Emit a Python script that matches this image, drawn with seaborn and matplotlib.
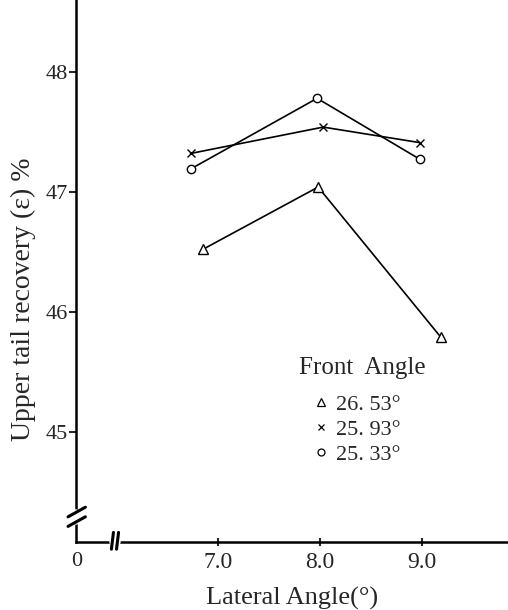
import numpy as np
import pandas as pd
import matplotlib
matplotlib.use('Agg')
import matplotlib.pyplot as plt
from matplotlib.lines import Line2D
import seaborn as sns

# values
front_angles = ['26. 53°', '25. 93°', '25. 33°']
markers = ['^', 'x', 'o']
tri_x = [6.85, 7.98, 9.18]
tri_y = [46.52, 47.04, 45.79]
cross_x = [6.73, 8.03, 8.98]
cross_y = [47.32, 47.54, 47.41]
circ_x = [6.73, 7.97, 8.98]
circ_y = [47.19, 47.78, 47.27]

x_ticks = [7.0, 8.0, 9.0]
x_ticklabels = ['7.0', '8.0', '9.0']
y_ticks = [45, 46, 47, 48]

sns.set_style('white')
plt.rcParams['font.family'] = ['Liberation Serif', 'DejaVu Serif']

fig = plt.figure(figsize=(5.08, 6.10), dpi=100)
ax = fig.add_axes([0.15, 0.1115, 0.85, 0.8885])

series = [(tri_x, tri_y), (cross_x, cross_y), (circ_x, circ_y)]
sizes = [7, 6, 6]
for (xs, ys), m, ms in zip(series, markers, sizes):
    df = pd.DataFrame({'x': xs, 'y': ys})
    sns.lineplot(data=df, x='x', y='y', ax=ax, color='black', lw=1.2,
                 marker=m, markersize=ms, markerfacecolor='white',
                 markeredgecolor='black', markeredgewidth=1.0)

ax.set_xlim(5.61, 9.84)
ax.set_ylim(44.08, 48.6)
ax.set_xticks(x_ticks)
ax.set_xticklabels(x_ticklabels)
ax.set_yticks(y_ticks)

for s in ['top', 'right']:
    ax.spines[s].set_visible(False)
for s in ['left', 'bottom']:
    ax.spines[s].set_linewidth(1.8)
    ax.spines[s].set_color('black')

ax.tick_params(axis='y', direction='out', length=5, width=1.5, pad=1,
               labelsize=16, left=True)
ax.tick_params(axis='x', direction='inout', length=6, width=1.5, pad=4,
               labelsize=17, bottom=True)

ax.set_xlabel('Lateral Angle(°)', fontsize=19, labelpad=10)
ax.set_ylabel('Upper tail recovery (ε) %', fontsize=20)
ax.yaxis.set_label_coords(-0.092, 0.447)

# "0" at the origin
ax.text(0.0, -0.018, '0', transform=ax.transAxes, ha='center', va='top',
        fontsize=16)

# axis break marks
ybr = 44.29
ax.plot([5.61, 5.61], [ybr - 0.04, ybr + 0.04], color='white', lw=4,
        clip_on=False, zorder=5)
for k in (-1, 1):
    ax.plot([5.53, 5.70], [ybr - 0.04 + k * 0.04, ybr + 0.04 + k * 0.04],
            color='black', lw=2.2, clip_on=False, zorder=6)

xbr = 5.99
ax.plot([xbr - 0.03, xbr + 0.03], [44.08, 44.08], color='white', lw=4,
        clip_on=False, zorder=5)
for k in (-1, 1):
    ax.plot([xbr - 0.01 + k * 0.025, xbr + 0.01 + k * 0.025],
            [44.02, 44.16], color='black', lw=2.2, clip_on=False, zorder=6)

# legend: title as text, entries as marker-only handles
ax.text(0.662, 0.321, 'Front  Angle', transform=ax.transAxes,
        ha='center', va='center', fontsize=18)
handles = [Line2D([], [], ls='none', marker=m, color='black',
                  markerfacecolor='white', markersize=s, markeredgewidth=0.9)
           for m, s in zip(markers, [6, 5, 5])]
leg = ax.legend(handles, front_angles, frameon=False,
                loc='upper left', bbox_to_anchor=(0.535, 0.280),
                fontsize=16, handlelength=0.8,
                handletextpad=0.3, labelspacing=0.19, borderpad=0.2,
                borderaxespad=0)

fig.savefig('out.png', dpi=100)
